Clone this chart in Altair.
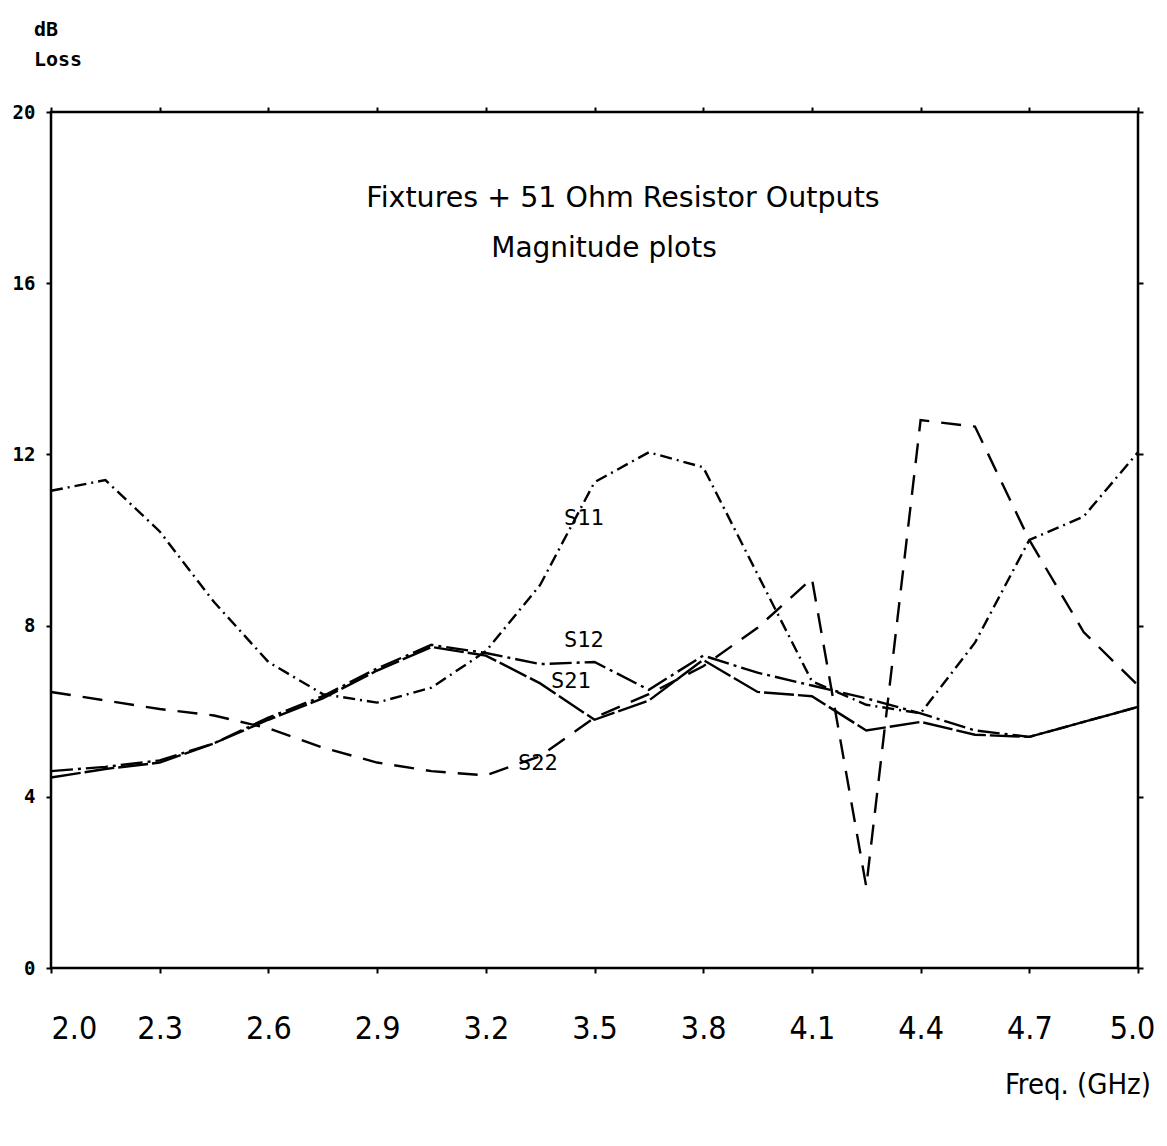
import altair as alt
import pandas as pd

# ---- data ----
freq = [2.0, 2.15, 2.3, 2.45, 2.6, 2.75, 2.9, 3.05, 3.2, 3.35, 3.5,
        3.65, 3.8, 3.95, 4.1, 4.25, 4.4, 4.55, 4.7, 4.85, 5.0]
s11 = [11.15, 11.4, 10.2, 8.55, 7.15, 6.4, 6.2, 6.55, 7.4, 8.95, 11.35,
       12.05, 11.7, 9.2, 6.7, 6.15, 5.95, 7.6, 10.0, 10.55, 12.05]
s12 = [4.6, 4.7, 4.85, 5.25, 5.85, 6.35, 7.0, 7.55, 7.36, 7.1, 7.15,
       6.5, 7.3, 6.9, 6.6, 6.3, 5.95, 5.55, 5.4, 5.75, 6.1]
s21 = [4.45, 4.65, 4.8, 5.25, 5.8, 6.3, 6.95, 7.5, 7.3, 6.65, 5.8,
       6.25, 7.2, 6.45, 6.35, 5.55, 5.75, 5.45, 5.4, 5.75, 6.1]
s22 = [6.45, 6.25, 6.05, 5.9, 5.6, 5.15, 4.8, 4.6, 4.5, 4.95, 5.85,
       6.4, 7.05, 7.95, 9.1, 1.9, 12.8, 12.65, 10.0, 7.85, 6.6]

series_names = ["S11", "S12", "S21", "S22"]
label_freq = [3.471, 3.471, 3.435, 3.344]
label_loss = [10.51, 7.66, 6.71, 4.79]

x_ticks = [2.0, 2.3, 2.6, 2.9, 3.2, 3.5, 3.8, 4.1, 4.4, 4.7, 5.0]
y_ticks = [0, 4, 8, 12, 16, 20]

title_line1 = "Fixtures + 51 Ohm Resistor Outputs"
title_line2 = "Magnitude plots"
y_title = ["dB", "Loss"]
x_title = "Freq. (GHz)"

# ---- build tables ----
rows = []
for name, vals in zip(series_names, [s11, s12, s21, s22]):
    for f, v in zip(freq, vals):
        rows.append({"freq": f, "loss": v, "series": name})
df = pd.DataFrame(rows)
labels_df = pd.DataFrame({"freq": label_freq, "loss": label_loss, "name": series_names})
one = pd.DataFrame({"a": [0]})

W, H = 1087, 856
dashes = [[12, 5, 2, 5], [22, 5, 3, 5], [30, 4], [20, 12]]

xscale = alt.Scale(domain=[2.0, 5.0], nice=False, zero=False)
yscale = alt.Scale(domain=[0, 20], nice=False, zero=True)

xfont = "Liberation Sans Narrow, DejaVu Sans Condensed, Liberation Sans, sans-serif"
plotter = "DejaVu Sans Mono"

lines = alt.Chart(df).mark_line(color="black", strokeWidth=2.4).encode(
    x=alt.X("freq:Q", scale=xscale,
            axis=alt.Axis(orient="bottom", values=x_ticks, format=".1f", title=None,
                          domain=False, grid=False, tickColor="black", tickSize=5,
                          tickWidth=2, labelFont=xfont, labelFontSize=32,
                          labelColor="black", labelPadding=40,
                          labelAlign=alt.condition("datum.value <= 2.0001",
                                                   alt.value("left"), alt.value("center")),
                          labelOffset=alt.condition("datum.value >= 4.999",
                                                    alt.value(-6), alt.value(0)))),
    y=alt.Y("loss:Q", scale=yscale,
            axis=alt.Axis(orient="left", values=y_ticks, title=None, domain=False,
                          grid=False, tickColor="black", tickSize=5, tickWidth=2,
                          labelFont=plotter, labelFontWeight="bold", labelFontSize=19,
                          labelColor="black", labelPadding=11)),
    strokeDash=alt.StrokeDash("series:N",
                              scale=alt.Scale(domain=series_names, range=dashes),
                              legend=None),
    detail="series:N",
)

axes2 = alt.Chart(df).mark_point(opacity=0).encode(
    x=alt.X("freq:Q", scale=xscale,
            axis=alt.Axis(orient="top", values=x_ticks, labels=False, title=None,
                          domain=False, grid=False, tickColor="black", tickSize=5,
                          tickWidth=2)),
    y=alt.Y("loss:Q", scale=yscale,
            axis=alt.Axis(orient="right", values=y_ticks, labels=False, title=None,
                          domain=False, grid=False, tickColor="black", tickSize=5,
                          tickWidth=2)),
)

series_labels = alt.Chart(labels_df).mark_text(
    font=plotter, fontSize=22, color="black", align="center", baseline="middle"
).encode(
    x=alt.X("freq:Q", scale=xscale, axis=None),
    y=alt.Y("loss:Q", scale=yscale, axis=None),
    text="name:N",
)

def txt(s, x, y, **kw):
    return alt.Chart(one).mark_text(color="black", baseline="middle", **kw).encode(
        x=alt.value(x), y=alt.value(y), text=alt.value(s))

t1 = txt(title_line1, 572, 86, font="DejaVu Sans", fontSize=28.5, align="center")
t2 = txt(title_line2, 553, 137, font="DejaVu Sans", fontSize=28, align="center")
ty1 = txt(y_title[0], -17, -82, font=plotter, fontSize=20, fontWeight="bold", align="left")
ty2 = txt(y_title[1], -17, -52, font=plotter, fontSize=20, fontWeight="bold", align="left")
tx = txt(x_title, 1100, 973, font=xfont, fontSize=29, align="right")

chart = alt.layer(lines, axes2, series_labels, t1, t2, ty1, ty2, tx).resolve_axis(
    x="independent", y="independent"
).properties(
    width=W, height=H,
    autosize=alt.AutoSizeParams(type="none"),
    padding={"left": 43, "top": 104, "right": 20, "bottom": 150},
    background="white",
).configure_view(stroke="black", strokeWidth=2.5)

chart.save("out.html", embed_options={"renderer": "svg", "actions": False})
